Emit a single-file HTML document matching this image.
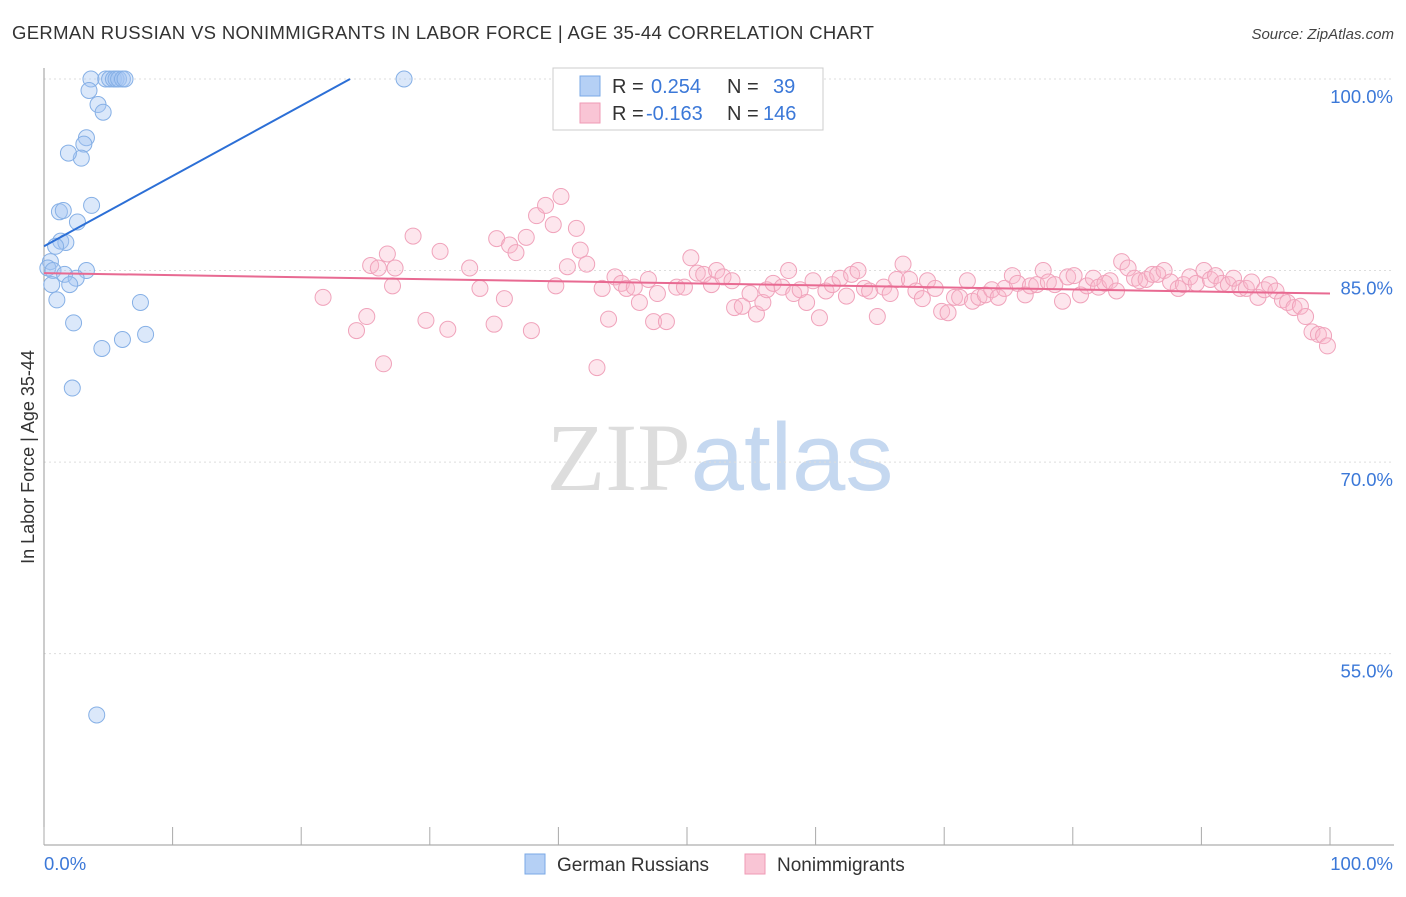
<!DOCTYPE html>
<html><head><meta charset="utf-8"><style>
body{margin:0;background:#fff;font-family:"Liberation Sans",sans-serif}
</style></head><body>
<svg id="chart" width="1406" height="892" xmlns="http://www.w3.org/2000/svg" font-family="Liberation Sans, sans-serif">
<text x="12" y="39" font-size="18.5" fill="#333" letter-spacing="0.35">GERMAN RUSSIAN VS NONIMMIGRANTS IN LABOR FORCE | AGE 35-44 CORRELATION CHART</text>
<text x="1394" y="39" font-size="15" fill="#444" text-anchor="end" font-style="italic">Source: ZipAtlas.com</text>
<text x="720" y="490" font-size="96" text-anchor="middle"><tspan fill="#ddd" font-family="Liberation Serif, serif">ZIP</tspan><tspan fill="#c5d8f0">atlas</tspan></text>
<text transform="translate(34,457) rotate(-90)" font-size="18" fill="#333" text-anchor="middle">In Labor Force | Age 35-44</text>
<g id="grid"></g><g id="pts"></g><g id="lines"></g>
<g>
<rect x="553" y="68" width="270" height="62" fill="#fff" stroke="#ccc"/>
<rect x="580" y="76" width="20" height="20" fill="#b5d0f5" stroke="#7aa8e6"/>
<rect x="580" y="103" width="20" height="20" fill="#f9c5d5" stroke="#ef9ab5"/>
<text x="612" y="93" font-size="20" fill="#333">R = <tspan fill="#3b78d8" x="651">0.254</tspan><tspan x="727">N = </tspan><tspan fill="#3b78d8" x="773">39</tspan></text>
<text x="612" y="120" font-size="20" fill="#333">R = <tspan fill="#3b78d8" x="646">-0.163</tspan><tspan x="727">N = </tspan><tspan fill="#3b78d8" x="763">146</tspan></text>
</g>
<g>
<rect x="525" y="854" width="20" height="20" fill="#b5d0f5" stroke="#7aa8e6"/>
<text x="557" y="871" font-size="19" fill="#333">German Russians</text>
<rect x="745" y="854" width="20" height="20" fill="#f9c5d5" stroke="#ef9ab5"/>
<text x="777" y="871" font-size="19" fill="#333">Nonimmigrants</text>
</g>
</svg>
<script>
const blueX=[3.65,4.8,5.1,5.4,5.6,5.8,6.1,6.3,28.0,3.5,4.2,4.6,3.3,3.1,2.9,1.9,3.7,1.2,1.5,2.6,1.3,1.7,0.9,0.5,0.3,0.7,3.3,1.6,2.5,2.0,0.6,1.0,7.5,2.3,7.9,6.1,4.5,2.2,4.1];
const blueY=[100,100,100,100,100,100,100,100,100,99.1,98.0,97.4,95.4,94.9,93.8,94.2,90.1,89.6,89.7,88.8,87.3,87.2,86.9,85.7,85.2,85.0,85.0,84.7,84.4,83.9,83.9,82.7,82.5,80.9,80.0,79.6,78.9,75.8,50.2];
const pinkX=[21.7,24.3,25.1,25.4,26.0,26.4,26.7,27.3,27.1,28.7,29.7,30.8,31.4,33.1,33.9,35.0,35.2,35.8,36.2,36.7,37.5,37.9,38.3,39.0,39.6,39.8,40.2,40.7,41.4,41.7,42.2,43.0,43.4,43.9,44.4,44.9,45.3,45.9,46.3,47.0,47.4,47.7,48.4,49.2,49.8,50.3,50.8,51.3,51.9,52.3,52.8,53.5,53.7,54.3,54.9,55.4,55.9,56.2,56.7,57.4,57.9,58.3,58.8,59.3,59.8,60.3,60.8,61.3,61.9,62.4,62.8,63.3,63.8,64.2,64.8,65.3,65.8,66.3,66.8,67.3,67.8,68.3,68.7,69.3,69.8,70.3,70.8,71.2,71.8,72.2,72.7,73.2,73.7,74.2,74.7,75.3,75.7,76.3,76.7,77.2,77.7,78.1,78.6,79.2,79.6,80.1,80.6,81.1,81.6,82.0,82.5,82.9,83.4,83.8,84.3,84.8,85.2,85.7,86.2,86.6,87.1,87.6,88.2,88.6,89.1,89.6,90.2,90.7,91.1,91.6,92.1,92.5,93.0,93.5,93.9,94.4,94.9,95.3,95.8,96.3,96.7,97.2,97.7,98.1,98.6,99.1,99.5,99.8];
const pinkY=[82.9,80.3,81.4,85.4,85.2,77.7,86.3,85.2,83.8,87.7,81.1,86.5,80.4,85.2,83.6,80.8,87.5,82.8,87.0,86.4,87.6,80.3,89.3,90.1,88.6,83.8,90.8,85.3,88.3,86.6,85.5,77.4,83.6,81.2,84.5,84.0,83.6,83.7,82.5,84.3,81.0,83.2,81.0,83.7,83.7,86.0,84.8,84.7,83.9,85.0,84.5,84.2,82.1,82.2,83.2,81.6,82.5,83.5,84.0,83.7,85.0,83.2,83.5,82.5,84.2,81.3,83.4,83.9,84.4,83.0,84.7,85.0,83.6,83.4,81.4,83.7,83.2,84.3,85.5,84.3,83.4,82.8,84.2,83.6,81.8,81.7,82.9,82.9,84.2,82.6,82.9,83.1,83.5,82.9,83.6,84.6,84.0,83.1,83.8,83.9,85.0,84.1,83.9,82.6,84.5,84.6,83.1,83.8,84.4,83.7,84.0,84.2,83.4,85.7,85.2,84.4,84.2,84.3,84.7,84.7,85.0,84.1,83.6,83.9,84.5,84.0,85.0,84.3,84.6,84.0,83.9,84.4,83.6,83.6,84.1,82.9,83.5,83.9,83.4,82.7,82.5,82.1,82.2,81.4,80.2,80.0,79.9,79.1];
const blueLine=[86.9,100,0,23.8];
const pinkLine=[84.8,83.2,0,100];
const yTicks=[100,85,70,55];
const xTickLabels=["0.0%","100.0%"];
const NS="http://www.w3.org/2000/svg";
const X=v=>44+v*12.86, Y=v=>79+(100-v)*12.77;
function mk(t,a,p){const e=document.createElementNS(NS,t);for(const k in a)e.setAttribute(k,a[k]);p.appendChild(e);return e;}
const grid=document.getElementById('grid'),pts=document.getElementById('pts'),lines=document.getElementById('lines');
yTicks.forEach(v=>{const l=mk('line',{x1:44,x2:1394,y1:Y(v),y2:Y(v),stroke:'#ddd','stroke-dasharray':'2,3'},grid);


const t=mk('text',{x:1393,y:Y(v)+24,'font-size':18.5,fill:'#3b78d8','text-anchor':'end'},grid);t.textContent=v.toFixed(1)+'%';

});
const ax=mk('line',{x1:44,x2:44,y1:68,y2:845,stroke:'#999'},grid);


const bx=mk('line',{x1:44,x2:1394,y1:845,y2:845,stroke:'#999'},grid);


for(let i=0;i<=10;i++){const tk=mk('line',{x1:X(i*10),x2:X(i*10),y1:827,y2:845,stroke:'#aaa'},grid);

}
[[0,'start',44],[100,'end',1393]].forEach((d,i)=>{const t=mk('text',{x:d[2],y:870,'font-size':18.5,fill:'#3b78d8','text-anchor':d[1]},grid);t.textContent=xTickLabels[i];

});
pinkX.forEach((x,i)=>{const c=mk('circle',{cx:X(x),cy:Y(pinkY[i]),r:8,fill:'rgba(248,182,202,0.35)',stroke:'#f0a3bb','stroke-width':1},pts);

});
blueX.forEach((x,i)=>{const c=mk('circle',{cx:X(x),cy:Y(blueY[i]),r:8,fill:'rgba(165,198,242,0.4)',stroke:'#86b0e6','stroke-width':1},pts);

});
const bl=mk('line',{x1:X(blueLine[2]),y1:Y(blueLine[0]),x2:X(blueLine[3]),y2:Y(blueLine[1]),stroke:'#2c6fd6','stroke-width':2},lines);


const pl=mk('line',{x1:X(pinkLine[2]),y1:Y(pinkLine[0]),x2:X(pinkLine[3]),y2:Y(pinkLine[1]),stroke:'#e86a92','stroke-width':2},lines);


</script>
</body></html>
